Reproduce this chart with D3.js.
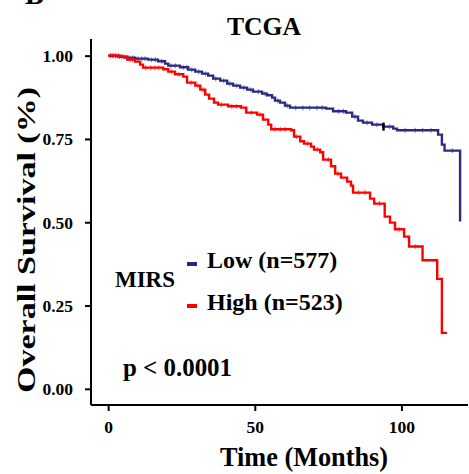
<!DOCTYPE html>
<html>
<head>
<meta charset="utf-8">
<script src="https://cdn.jsdelivr.net/npm/d3@7"></script>
<style>
	body { margin: 0; background: #fff; }
	text { font-family: "Liberation Serif", "Times New Roman", serif; font-weight: bold; fill: #000; }
</style>
</head>
<body>
<div id="chart"></div>
<script>
// Kaplan-Meier steps (months, survival at the drop)
const groups = ['Low (n=577)', 'High (n=523)'];
const groupColors = ['#2A2A85', '#FF0000'];

const lowTime = [3.4, 5.8, 9.2, 13.6, 17.0, 19.4, 20.5, 24.5, 27.3, 29.7, 32.0, 34.1, 35.8, 38.2, 40.6,
	42.6, 45.0, 47.4, 49.4, 52.5, 54.2, 55.9, 56.9, 58.6, 60.3, 62.0, 74.3, 76.7, 81.1, 83.2, 85.2,
	86.9, 90.0, 93.8, 97.2, 98.5, 112.5, 113.8, 114.7, 120.0];
const lowSurv = [0.997, 0.994, 0.991, 0.988, 0.983, 0.976, 0.970, 0.965, 0.958, 0.952, 0.946, 0.940, 0.931, 0.925, 0.916,
	0.910, 0.904, 0.898, 0.892, 0.886, 0.881, 0.874, 0.865, 0.859, 0.850, 0.844, 0.841, 0.833, 0.829, 0.817, 0.805,
	0.799, 0.793, 0.787, 0.781, 0.776, 0.763, 0.733, 0.715, 0.502];
const lowEnd = 120.0;

const highTime = [4.1, 6.5, 9.2, 10.9, 11.9, 18.8, 20.5, 22.8, 25.6, 26.9, 29.7, 31.4, 33.1, 34.4, 36.1,
	37.5, 40.9, 45.3, 47.1, 50.8, 52.8, 54.6, 55.6, 62.4, 63.4, 65.5, 66.8, 69.2, 70.2, 72.3, 73.3,
	76.0, 77.4, 79.4, 81.5, 82.8, 83.5, 89.3, 90.7, 94.3, 96.1, 97.8, 100.9, 102.6, 107.2, 112.2, 113.8];
const highSurv = [0.997, 0.988, 0.982, 0.973, 0.964, 0.959, 0.952, 0.944, 0.937, 0.919, 0.910, 0.898, 0.883, 0.871, 0.859,
	0.853, 0.848, 0.844, 0.829, 0.823, 0.808, 0.793, 0.779, 0.776, 0.757, 0.743, 0.736, 0.727, 0.718, 0.710, 0.688,
	0.668, 0.646, 0.634, 0.622, 0.610, 0.589, 0.571, 0.556, 0.517, 0.499, 0.479, 0.457, 0.427, 0.386, 0.330, 0.168];
const highEnd = 115.5;

// censoring marks (months)
const lowCensor = [0.8, 1.6, 2.5, 3.9, 4.7, 6.3, 7.1, 8.4, 10.2, 11.5, 12.6, 14.8, 16.1, 18.3, 21.4, 22.9,
	25.6, 26.8, 28.5, 30.9, 33.2, 36.7, 39.4, 41.5, 43.8, 46.3, 48.6, 51.2, 53.5, 57.8, 61.1, 63.9,
	66.4, 68.7, 71.2, 73.0, 78.5, 80.2, 84.1, 88.3, 91.6, 96.0, 101.3, 104.7, 107.2, 110.1, 117.4];
const highCensor = [0.9, 1.7, 2.6, 3.5, 5.2, 7.4, 8.3, 12.8, 14.5, 15.9, 17.2, 21.6, 24.1, 28.3, 30.5,
	32.4, 38.6, 42.1, 43.7, 48.9, 51.8, 56.9, 58.7, 60.3, 64.2, 68.0, 71.4, 75.1, 78.3, 85.4, 87.6,
	92.5, 99.2, 104.8];
const blackMark = [93.8, 0.787];

const xTicks = [0, 50, 100];
const yTicks = [0, 0.25, 0.5, 0.75, 1];

//-----------------------------------------------------
var W = 469, H = 474;
var svg = d3.select('#chart').append('svg')
	.attr('width', W)
	.attr('height', H);

var x = d3.scaleLinear().domain([-5.85, 122.7]).range([91, 468]);
var y = d3.scaleLinear().domain([-0.05, 1.05]).range([405.5, 39]);

// panel label (cut off at the top, as in the figure)
svg.append('text').attr('x', 25).attr('y', 4).attr('font-size', 28).text('B');

svg.append('text')
	.attr('x', 264).attr('y', 35)
	.attr('text-anchor', 'middle')
	.attr('font-size', 26)
	.attr('textLength', 74).attr('lengthAdjust', 'spacingAndGlyphs')
	.text('TCGA');

//-----------------------------------------------------
// axes
var xAxis = svg.append('g')
	.attr('transform', 'translate(0,' + 405 + ')')
	.call(d3.axisBottom(x).tickValues(xTicks).tickSize(6).tickPadding(12).tickFormat(d3.format('d')));
var yAxis = svg.append('g')
	.attr('transform', 'translate(' + 91 + ',0)')
	.call(d3.axisLeft(y).tickValues(yTicks).tickSize(6).tickPadding(12).tickFormat(d3.format('.2f')));

[xAxis, yAxis].forEach(function(a) {
	a.select('.domain').attr('stroke', '#000').attr('stroke-width', 2);
	a.selectAll('.tick line').attr('stroke', '#000').attr('stroke-width', 2);
	a.selectAll('.tick text')
		.attr('font-family', '"Liberation Serif", "Times New Roman", serif')
		.attr('font-weight', 'bold')
		.attr('font-size', 17.5)
		.attr('fill', '#000');
});
xAxis.select('.domain').attr('d', 'M91,0H468');
yAxis.select('.domain').attr('d', 'M0,39V405');
xAxis.selectAll('.tick text').attr('dy', '0.71em').attr('y', 16);
yAxis.selectAll('.tick text').attr('x', -18).attr('dy', '0.34em');

svg.append('text')
	.attr('x', 304).attr('y', 466)
	.attr('text-anchor', 'middle')
	.attr('font-size', 27)
	.attr('textLength', 168).attr('lengthAdjust', 'spacingAndGlyphs')
	.text('Time (Months)');

svg.append('text')
	.attr('transform', 'translate(35,240) rotate(-90)')
	.attr('text-anchor', 'middle')
	.attr('font-size', 24.5)
	.attr('textLength', 306).attr('lengthAdjust', 'spacingAndGlyphs')
	.text('Overall Survival (%)');

//-----------------------------------------------------
// curves
function stepPoints(times, surv, end) {
	var pts = [[0, 1]];
	times.forEach(function(t, i) { pts.push([t, surv[i]]); });
	if (end > times[times.length - 1]) pts.push([end, surv[surv.length - 1]]);
	return pts;
}
function survAt(times, surv, t) {
	var s = 1;
	times.forEach(function(tt, i) { if (tt <= t) s = surv[i]; });
	return s;
}

var line = d3.line()
	.x(function(d) { return x(d[0]); })
	.y(function(d) { return y(d[1]); })
	.curve(d3.curveStepAfter);

var curves = [
	{ pts: stepPoints(lowTime, lowSurv, lowEnd), cens: lowCensor, t: lowTime, s: lowSurv, color: groupColors[0] },
	{ pts: stepPoints(highTime, highSurv, highEnd), cens: highCensor, t: highTime, s: highSurv, color: groupColors[1] }
];

curves.forEach(function(c) {
	svg.append('path')
		.attr('d', line(c.pts))
		.attr('fill', 'none')
		.attr('stroke', c.color)
		.attr('stroke-width', 2.4);

	svg.append('g').selectAll('path')
		.data(c.cens)
		.enter()
		.append('path')
		.attr('d', function(t) {
			var cx = x(t), cy = y(survAt(c.t, c.s, t));
			return 'M' + (cx - 2.5) + ',' + cy + 'h5M' + cx + ',' + (cy - 2.5) + 'v5';
		})
		.attr('stroke', c.color)
		.attr('stroke-width', 1.3)
		.attr('opacity', 0.5);
});

svg.append('rect')
	.attr('x', x(blackMark[0]) - 1).attr('y', y(blackMark[1]) - 4)
	.attr('width', 2.5).attr('height', 8)
	.attr('fill', '#000');

//-----------------------------------------------------
// legend + p value
svg.append('text').attr('x', 115).attr('y', 287).attr('font-size', 22.5)
	.attr('textLength', 60).attr('lengthAdjust', 'spacingAndGlyphs').text('MIRS');

var leg = svg.selectAll('.leg')
	.data(groups)
	.enter()
	.append('g')
	.attr('class', 'leg')
	.attr('transform', function(d, i) { return 'translate(187,' + (268 + i * 42) + ')'; });
leg.append('rect')
	.attr('x', 0).attr('y', -6)
	.attr('width', 10).attr('height', 4)
	.attr('fill', function(d, i) { return groupColors[i]; });
leg.append('text')
	.attr('x', 20).attr('y', 0)
	.attr('font-size', 24)
	.text(function(d) { return d; });

svg.append('text').attr('x', 123).attr('y', 376).attr('font-size', 25.5)
	.attr('textLength', 109).attr('lengthAdjust', 'spacingAndGlyphs').text('p < 0.0001');
</script>
</body>
</html>
